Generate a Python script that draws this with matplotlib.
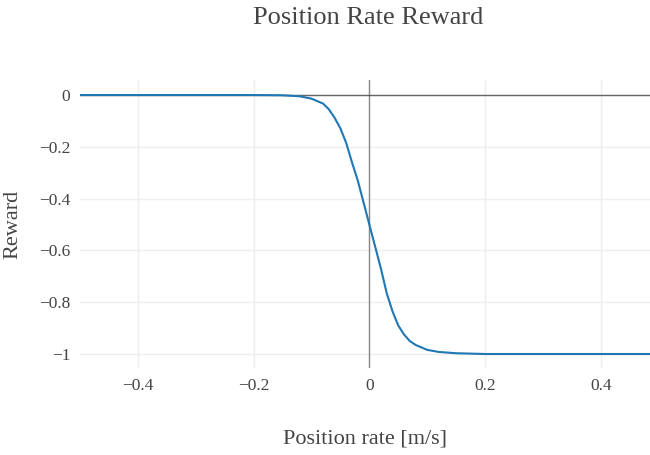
import numpy as np
import matplotlib.pyplot as plt

# position rate [m/s] and reward
rate = [-0.5, -0.3, -0.2, -0.15, -0.12, -0.1, -0.08, -0.07, -0.06, -0.05,
        -0.04, -0.03, -0.02, -0.01, 0.0, 0.01, 0.02, 0.03, 0.04, 0.05,
        0.06, 0.07, 0.08, 0.1, 0.12, 0.15, 0.2, 0.3, 0.5]
reward = [0.0, 0.0, 0.0, -0.001, -0.005, -0.014, -0.033, -0.055, -0.088, -0.129,
          -0.185, -0.26, -0.33, -0.415, -0.5, -0.585, -0.67, -0.765, -0.835, -0.89,
          -0.925, -0.95, -0.965, -0.984, -0.992, -0.997, -1.0, -1.0, -1.0]

xticks = [-0.4, -0.2, 0, 0.2, 0.4]
xticklabels = ["\u22120.4", "\u22120.2", "0", "0.2", "0.4"]
yticks = [0, -0.2, -0.4, -0.6, -0.8, -1]
yticklabels = ["0", "\u22120.2", "\u22120.4", "\u22120.6", "\u22120.8", "\u22121"]

plt.rcParams['font.family'] = 'Liberation Serif'
txt = '#444444'

fig = plt.figure(figsize=(6.5, 4.55), dpi=100)
ax = fig.add_axes([80/650, 1 - 368/455, 570/650, 288/455])

ax.plot(rate, reward, color='#1f77b4', lw=1.5, zorder=3)
ax.axhline(0, color='#444444', lw=1, alpha=0.8, zorder=2)
ax.axvline(0, color='#444444', lw=1, alpha=0.6, zorder=2)

ax.set_xlim(-0.5, 0.485)
ax.set_ylim(-1.054, 0.058)
ax.set_xticks(xticks)
ax.set_xticklabels(xticklabels)
ax.set_yticks(yticks)
ax.set_yticklabels(yticklabels)
ax.grid(color='#eeeeee', lw=1, zorder=0)
ax.set_axisbelow(True)
for s in ax.spines.values():
    s.set_visible(False)
ax.tick_params(length=0, labelsize=12.5, colors=txt, pad=7)

ax.set_xlabel("Position rate [m/s]", fontsize=16, color=txt, labelpad=26)
ax.set_ylabel("Reward", fontsize=16, color=txt, labelpad=12)
fig.text(368/650, 1 - 18/455, "Position Rate Reward", fontsize=19, color=txt,
         ha='center', va='center')

fig.savefig('out.png', dpi=100)
